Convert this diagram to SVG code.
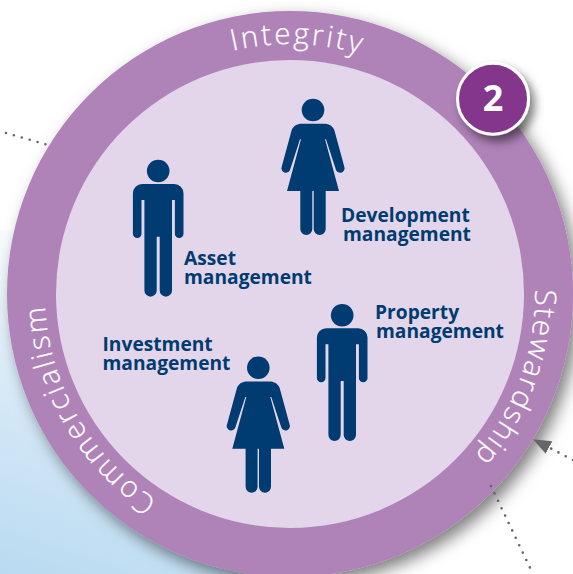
<svg xmlns="http://www.w3.org/2000/svg" xmlns:xlink="http://www.w3.org/1999/xlink" width="573" height="574" viewBox="0 0 573 574">
<style>
.ring{font-family:"Open Sans","Liberation Sans",sans-serif;font-weight:300;font-size:29.5px;fill:#fff;stroke:#fff;stroke-width:.25}
.lab{font-family:"Open Sans","Liberation Sans",sans-serif;font-weight:700;font-size:19.2px;fill:#003b71}
.dots{fill:none;stroke:#666;stroke-width:2.6;stroke-linecap:round;stroke-dasharray:0 8.2}
.fig{fill:#003b71}
</style>
<defs>
<linearGradient id="bg" gradientUnits="userSpaceOnUse" x1="0" y1="574" x2="110" y2="240">
<stop offset="0" stop-color="#b9daf1"/><stop offset="0.5" stop-color="#d6e9f7"/><stop offset="1" stop-color="#fff"/>
</linearGradient>
<filter id="sh" x="-10%" y="-10%" width="125%" height="125%"><feDropShadow dx="6" dy="7" stdDeviation="8" flood-color="#000" flood-opacity=".5"/></filter>
<filter id="sh2" x="-30%" y="-30%" width="170%" height="170%"><feDropShadow dx="5" dy="6" stdDeviation="5" flood-color="#000" flood-opacity=".5"/></filter>
<marker id="arr" markerUnits="userSpaceOnUse" markerWidth="18" markerHeight="14" viewBox="0 0 18 14" refX="0" refY="7" orient="auto"><path d="M0,0L18,7L0,14Z" fill="#666"/></marker>
<path id="r1" d="M290,544A250,250 0 1 1 290,44A250,250 0 1 1 290,544"/>
<path id="r2" d="M290,539A245,245 0 1 1 290,49A245,245 0 1 1 290,539"/>
<g id="man"><circle r="11.3"/><path d="M-16,13H16a9.3,9.3 0 0 1 9.3,9.3V62.7a4.3,4.3 0 0 1-8.6,0V29H13.8V119.5a6.15,6.15 0 0 1-12.3,0V65.7H-1.5V119.5a6.15,6.15 0 0 1-12.3,0V29H-16.7V62.7a4.3,4.3 0 0 1-8.6,0V22.3A9.3,9.3 0 0 1-16,13Z"/></g>
<g id="woman"><circle r="11.3"/><path d="M-11,13.7H11C15,13.7 19,15 21.3,20L31.3,56.7a4.4,4.4 0 0 1-8.3,3.2L13,29.3H12L26,81H12.7V119a6,6 0 0 1-12,0V81H-.7V119a6,6 0 0 1-12,0V81H-26L-12,29.3H-13L-23,59.9a4.4,4.4 0 0 1-8.3-3.2L-21.3,20C-19,15-15,13.7-11,13.7Z"/></g>
</defs>
<rect id="background" x="0" y="230" width="290" height="344" fill="url(#bg)"/>
<g id="ring">
<circle cx="290" cy="294" r="283" fill="#af82b8" filter="url(#sh)"/>
<circle cx="290" cy="294" r="234" fill="#e3d6eb"/>
<text class="ring" letter-spacing="2.6"><textPath xlink:href="#r1" href="#r1" startOffset="727">Integrity</textPath></text>
<text class="ring" letter-spacing="2.3"><textPath xlink:href="#r2" href="#r2" startOffset="140">Commercialism</textPath></text>
<text class="ring" letter-spacing="1.7"><textPath xlink:href="#r2" href="#r2" startOffset="1150">Stewardship</textPath></text>
</g>
<g id="connectors">
<path class="dots" d="M6,133L48,145"/>
<path class="dots" d="M491,486L533,574"/>
<path class="dots" d="M573,460L549,447.5" marker-end="url(#arr)"/>
</g>
<g id="badge">
<circle cx="493" cy="98.7" r="35.5" fill="#84358c" stroke="#fff" stroke-width="3" filter="url(#sh2)"/>
<text x="493" y="111" text-anchor="middle" style="font-family:'Open Sans','Liberation Sans',sans-serif;font-weight:700;font-size:36px;fill:#fff">2</text>
</g>
<g id="asset-management">
<use href="#man" class="fig" x="158.2" y="171"/>
<text class="lab" x="184" y="265">Asset</text><text class="lab" x="184" y="284">management</text>
</g>
<g id="development-management">
<use href="#woman" class="fig" x="313" y="110"/>
<text class="lab" x="341" y="222">Development</text><text class="lab" x="343" y="240.5">management</text>
</g>
<g id="property-management">
<use href="#man" class="fig" x="342.2" y="315.3"/>
<text class="lab" x="375" y="319">Property</text><text class="lab" x="376" y="337.5">management</text>
</g>
<g id="investment-management">
<use href="#woman" class="fig" x="258.3" y="367.7"/>
<text class="lab" x="102.5" y="351">Investment</text><text class="lab" x="102.5" y="369.5">management</text>
</g>
</svg>
